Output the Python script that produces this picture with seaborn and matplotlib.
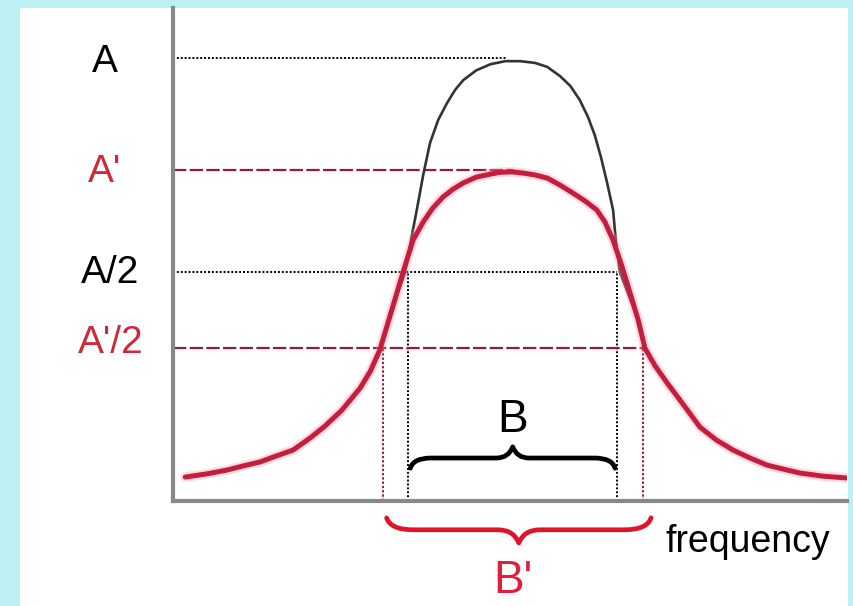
import matplotlib
matplotlib.use("Agg")
import pandas as pd
import matplotlib.pyplot as plt
import seaborn as sns
from matplotlib.path import Path
from matplotlib.patches import PathPatch, Rectangle

# Curve samples (frequency, amplitude with A = 1)
freq_black = [0.18, 0.49, 0.80, 1.03, 1.28, 1.53, 1.77, 2.02, 2.24, 2.49, 2.76, 2.91, 3.05, 3.24,
              3.42, 3.51, 3.60, 3.69, 3.79, 3.91, 4.04, 4.16, 4.28, 4.47, 4.68, 4.90, 5.12,
              5.34, 5.52, 5.71, 5.86, 6.00, 6.12, 6.22, 6.31, 6.40, 6.49, 6.53, 6.59,
              6.86, 6.96, 7.11, 7.29, 7.52, 7.77, 8.01, 8.26, 8.51, 8.76, 9.00, 9.25, 9.59, 9.93]
amp_black = [0.054, 0.061, 0.070, 0.079, 0.088, 0.102, 0.115, 0.142, 0.169, 0.205, 0.255, 0.293, 0.341, 0.438,
             0.515, 0.589, 0.661, 0.736, 0.808, 0.860, 0.898, 0.928, 0.950, 0.972, 0.986, 0.993, 0.993,
             0.989, 0.980, 0.959, 0.937, 0.905, 0.867, 0.826, 0.777, 0.720, 0.657, 0.589, 0.517,
             0.409, 0.345, 0.305, 0.266, 0.219, 0.167, 0.138, 0.115, 0.097, 0.081, 0.072, 0.063, 0.056, 0.052]

freq_red = [0.18, 0.49, 0.80, 1.03, 1.28, 1.53, 1.77, 2.02, 2.24, 2.49,
            2.76, 2.91, 3.05, 3.24, 3.39, 3.54, 3.69, 3.83, 3.98, 4.13,
            4.28, 4.47, 4.68, 4.82, 5.01, 5.18, 5.34, 5.52, 5.71, 5.90,
            6.08, 6.25, 6.37, 6.49, 6.61, 6.74, 6.86, 6.96, 7.11, 7.29,
            7.52, 7.77, 8.01, 8.26, 8.51, 8.76, 9.00, 9.25, 9.59, 9.93]
amp_red = [0.054, 0.061, 0.070, 0.079, 0.088, 0.102, 0.115, 0.142, 0.169, 0.205,
           0.255, 0.293, 0.341, 0.438, 0.515, 0.589, 0.630, 0.661, 0.686, 0.704,
           0.718, 0.731, 0.738, 0.742, 0.743, 0.740, 0.736, 0.729, 0.713, 0.695,
           0.677, 0.657, 0.630, 0.589, 0.535, 0.470, 0.409, 0.345, 0.305, 0.266,
           0.219, 0.167, 0.138, 0.115, 0.097, 0.081, 0.072, 0.063, 0.056, 0.052]

# reference levels and widths
level_A = 1.0
level_A2 = 0.747
half_A = 0.517
half_A2 = 0.345
B_edges = [3.47, 6.55]
B2_edges = [3.10, 6.93]
A_line_end = 4.93
A2_line_end = 5.01

black_df = pd.DataFrame({"freq": freq_black, "amp": amp_black})
red_df = pd.DataFrame({"freq": freq_red, "amp": amp_red})

sns.set_style("white")
plt.rcParams["font.family"] = ["Liberation Sans", "DejaVu Sans"]

RED = "#c41e3e"
DARKRED = "#9c1a38"
LABELRED = "#cc2a3a"

fig = plt.figure(figsize=(8.54, 6.06), dpi=100, facecolor="#bcf0f2")
fig.patches.append(Rectangle((20 / 854, 0), 828 / 854, 598 / 606,
                             transform=fig.transFigure, facecolor="white",
                             edgecolor="none", zorder=-10))
ax = fig.add_axes([173 / 854, 105 / 606, 674 / 854, 493 / 606])
ax.set_zorder(1)
ax.set_facecolor("none")
ax.set_xlim(0, 9.94)
ax.set_ylim(0, 1.113)

# guide lines
ax.hlines(level_A, 0, A_line_end, color="black", lw=1.4, ls=(0, (1, 1)), zorder=1)
ax.hlines(half_A, 0, B_edges[1], color="black", lw=1.4, ls=(0, (1, 1)), zorder=1)
ax.vlines(B_edges, 0, half_A, color="black", lw=1.4, ls=(0, (1, 1)), zorder=1)
ax.hlines(level_A2, 0, A2_line_end, color=DARKRED, lw=1.6, ls=(0, (6, 1.5)), zorder=1)
ax.hlines(half_A2, 0, B2_edges[1], color=DARKRED, lw=1.6, ls=(0, (6, 1.5)), zorder=1)
ax.vlines(B2_edges, 0, half_A2, color=DARKRED, lw=1.4, ls=(0, (1.2, 1)), zorder=1)

# curves
sns.lineplot(data=black_df, x="freq", y="amp", sort=False, color="#333333", lw=1.9, ax=ax, zorder=3)
sns.lineplot(data=red_df, x="freq", y="amp", sort=False, color="#ff9aaa", lw=7, alpha=0.35, ax=ax, zorder=4)
sns.lineplot(data=red_df, x="freq", y="amp", sort=False, color=RED, lw=3.6, ax=ax, zorder=5)


def brace(ax, x0, x1, y, d, color, lw):
    w = x1 - x0
    xm = (x0 + x1) / 2
    verts = [(x0, y - d), (x0 + 0.015 * w, y), (x0 + 0.1 * w, y),
             (xm - 0.08 * w, y),
             (xm - 0.02 * w, y), (xm, y + d * 1.1),
             (xm + 0.02 * w, y), (xm + 0.08 * w, y),
             (x1 - 0.1 * w, y),
             (x1 - 0.015 * w, y), (x1, y - d)]
    codes = [Path.MOVETO, Path.CURVE3, Path.CURVE3, Path.LINETO,
             Path.CURVE3, Path.CURVE3, Path.CURVE3, Path.CURVE3,
             Path.LINETO, Path.CURVE3, Path.CURVE3]
    patch = PathPatch(Path(verts, codes), fill=False, edgecolor=color, lw=lw,
                      capstyle="round", joinstyle="round", clip_on=False, zorder=6)
    ax.add_patch(patch)


brace(ax, B_edges[0] + 0.03, B_edges[1] - 0.03, 0.097, 0.023, "black", 3.4)
brace(ax, B2_edges[0] + 0.05, B2_edges[1] + 0.12, -0.065, -0.027, "#e01428", 3.4)

# texts
ax.text(5.01, 0.156, "B", fontsize=33, ha="center", va="baseline", color="black")
ax.text(5.01, -0.208, "B'", fontsize=33, ha="center", va="baseline", color="#e0203a", clip_on=False)
ax.text(7.26, -0.115, "frequency", fontsize=27, ha="left", va="baseline", color="black", clip_on=False)

ytr = ax.get_yaxis_transform()
ax.text(-0.101, 0.968, "A", transform=ytr, fontsize=28, ha="center", va="baseline", color="black")
ax.text(-0.102, 0.720, "A'", transform=ytr, fontsize=28, ha="center", va="baseline", color=LABELRED)
ax.text(-0.093, 0.492, "A/2", transform=ytr, fontsize=28, ha="center", va="baseline", color="black")
ax.text(-0.092, 0.334, "A'/2", transform=ytr, fontsize=28, ha="center", va="baseline", color=LABELRED)

ax.set_xticks([])
ax.set_yticks([])
ax.set_xlabel("")
ax.set_ylabel("")
sns.despine(ax=ax)
for side in ["left", "bottom"]:
    ax.spines[side].set_color("#888888")
    ax.spines[side].set_linewidth(3)

fig.savefig("out.png", dpi=100, facecolor=fig.get_facecolor())
